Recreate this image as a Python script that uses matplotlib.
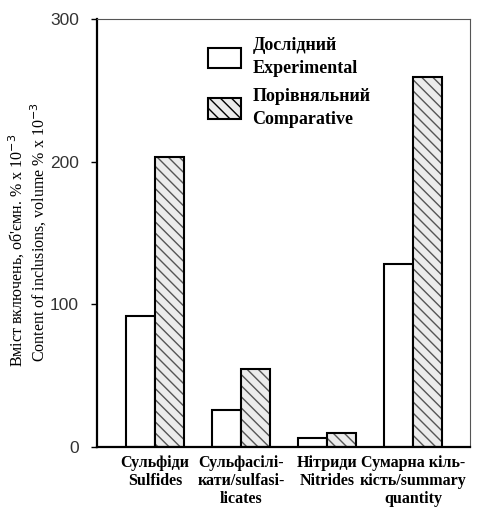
import numpy as np
import matplotlib
matplotlib.use("Agg")
from matplotlib import pyplot as plt
from matplotlib.patches import Patch

categories = ["Сульфіди\nSulfides", "Сульфасілі-\nкати/sulfasi-\nlicates",
              "Нітриди\nNitrides", "Сумарна кіль-\nкість/summary\nquantity"]
experimental = [92, 26, 6, 128]
comparative = [203, 55, 10, 259]
series_labels = ["Дослідний\nExperimental", "Порівняльний\nComparative"]
yticks = [0, 100, 200, 300]

plt.rcParams["hatch.linewidth"] = 1.0
HATCH = "\\\\\\"
HCOL = "#555555"
FILL = "#ececec"

fig = plt.figure(figsize=(4.79, 5.08), dpi=100)
ax = fig.add_axes([0.2025, 0.12, 0.7785, 0.8426])

x = np.arange(len(categories))
w = 0.335
ax.bar(x - w / 2, experimental, w, color="white", edgecolor="black", linewidth=1.5)
# hatch layer in grey, then black outline on top
ax.bar(x + w / 2, comparative, w, color=FILL, edgecolor=HCOL, linewidth=0, hatch=HATCH)
ax.bar(x + w / 2, comparative, w, fill=False, edgecolor="black", linewidth=1.5)

ax.set_xlim(-0.674, 3.66)
ax.set_ylim(0, 300)
ax.set_yticks(yticks)
ax.set_yticklabels([str(v) for v in yticks], fontsize=12.5, color="#333333",
                   family="Liberation Sans")
ax.tick_params(axis="y", length=4, width=1, direction="out", pad=9)
ax.set_xticks(x)
ax.set_xticklabels(categories, fontsize=11.5, fontweight="bold", family="Liberation Serif",
                   linespacing=1.15)
ax.tick_params(axis="x", length=0, pad=6)

for s in ["left", "bottom"]:
    ax.spines[s].set_linewidth(1.6)
for s in ["top", "right"]:
    ax.spines[s].set_linewidth(0.8)
    ax.spines[s].set_color("#555555")

ylab_style = dict(rotation=90, ha="center", va="center", fontsize=11.5,
                  family="Liberation Serif")
fig.text(17 / 479, 1 - 250 / 508, "Вміст включень, об'ємн. % x 10$^{-3}$", **ylab_style)
fig.text(39 / 479, 1 - 232 / 508, "Content of inclusions, volume % x 10$^{-3}$", **ylab_style)

handles = [Patch(facecolor="white", edgecolor="black", linewidth=1.5),
           Patch(facecolor=FILL, edgecolor="black", linewidth=1.5, hatch=HATCH)]
leg = ax.legend(handles, series_labels, loc="upper left", bbox_to_anchor=(0.255, 0.995),
                frameon=False, handlelength=1.8, handleheight=1.35, handletextpad=0.65,
                labelspacing=0.6,
                prop={"family": "Liberation Serif", "weight": "bold", "size": 13})
for t in leg.get_texts():
    t.set_linespacing(1.45)

fig.savefig("out.png", dpi=100)
